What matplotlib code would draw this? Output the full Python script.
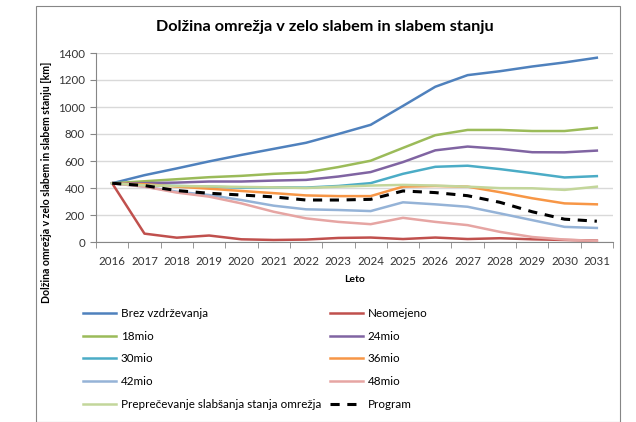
import numpy as np
import matplotlib.pyplot as plt
from matplotlib.patches import Rectangle

# Data
years = [str(y) for y in range(2016, 2032)]

brez = [435, 495, 545, 597, 645, 690, 735, 800, 868, 1008, 1150, 1236, 1265, 1300, 1330, 1365]
neomejeno = [435, 62, 32, 48, 20, 15, 18, 30, 33, 22, 33, 22, 28, 20, 15, 10]
mio18 = [435, 450, 465, 480, 490, 505, 515, 555, 602, 697, 791, 830, 830, 822, 822, 846]
mio24 = [435, 436, 440, 448, 448, 455, 460, 485, 518, 592, 679, 707, 690, 665, 664, 677]
mio30 = [435, 423, 415, 410, 403, 405, 403, 415, 436, 505, 557, 565, 540, 510, 478, 488]
mio36 = [435, 428, 410, 395, 378, 362, 345, 340, 340, 410, 415, 410, 369, 324, 286, 279]
mio42 = [435, 410, 373, 348, 311, 269, 242, 237, 229, 294, 279, 261, 212, 162, 112, 104]
mio48 = [435, 410, 366, 336, 286, 224, 175, 149, 132, 179, 149, 125, 75, 37, 18, 8]
preprec = [435, 420, 415, 412, 408, 405, 400, 410, 418, 423, 418, 410, 399, 398, 386, 410]
program = [435, 418, 381, 361, 348, 334, 311, 311, 316, 378, 366, 343, 294, 224, 169, 154]

series = [
    ("Brez vzdrževanja", brez, "#4F81BD", "-"),
    ("Neomejeno", neomejeno, "#C0504D", "-"),
    ("18mio", mio18, "#9BBB59", "-"),
    ("24mio", mio24, "#8064A2", "-"),
    ("30mio", mio30, "#4BACC6", "-"),
    ("36mio", mio36, "#F79646", "-"),
    ("42mio", mio42, "#95B3D7", "-"),
    ("48mio", mio48, "#E6A5A3", "-"),
    ("Preprečevanje slabšanja stanja omrežja", preprec, "#C3D69B", "-"),
    ("Program", program, "black", "--"),
]

plt.rcParams['font.family'] = ['Lato', 'DejaVu Sans']

fig = plt.figure(figsize=(6.36, 4.22), dpi=100)
ax = fig.add_axes([96 / 636, 1 - 242 / 422, (613 - 96) / 636, (242 - 53) / 422])

x = np.arange(len(years))
handles = []
for name, vals, col, ls in series:
    if ls == "--":
        h, = ax.plot(x, vals, color=col, lw=2.2, ls=(0, (3, 2.5)), label=name, zorder=5)
    else:
        h, = ax.plot(x, vals, color=col, lw=1.8, label=name)
    handles.append(h)

ax.set_xlim(-0.5, len(years) - 0.5)
ax.set_ylim(0, 1400)
ax.set_yticks(range(0, 1401, 200))
ax.set_xticks(x)
ax.set_xticklabels(years)
ax.set_xticks(np.arange(-0.5, len(years), 1), minor=True)
ax.tick_params(axis='x', which='major', length=0, labelsize=8.3, pad=10, labelcolor='#333333')
ax.tick_params(axis='x', which='minor', length=4, color='#868686')
ax.tick_params(axis='y', length=4, labelsize=8.3, color='#868686', labelcolor='#333333', pad=4)
ax.grid(axis='y', color='#D9D9D9', lw=1)
ax.set_axisbelow(True)
for s in ['top', 'right']:
    ax.spines[s].set_visible(False)
ax.spines['left'].set_color('#868686')
ax.spines['bottom'].set_color('#868686')

ax.set_xlabel("Leto", fontsize=7.5, fontweight='bold', labelpad=6)
fig.text(47 / 636, 1 - 182 / 422, "Dolžina omrežja v zelo slabem in slabem stanju [km]",
         rotation=90, ha='center', va='center', fontsize=7.6, fontweight='bold')

fig.text(325 / 636, 1 - 27 / 422, "Dolžina omrežja v zelo slabem in slabem stanju",
         ha='center', va='center', fontsize=11.7, fontweight='bold')

# legend: two columns, placed like Excel
leg_kw = dict(frameon=False, fontsize=8.4, handlelength=2.8, handletextpad=0.45,
              labelspacing=1.0, borderaxespad=0, borderpad=0)
left_idx = [0, 2, 4, 6, 8]
right_idx = [1, 3, 5, 7, 9]
fig.legend([handles[i] for i in left_idx], [series[i][0] for i in left_idx],
           loc='upper left', bbox_to_anchor=(83 / 636, 1 - 308 / 422), **leg_kw)
fig.legend([handles[i] for i in right_idx], [series[i][0] for i in right_idx],
           loc='upper left', bbox_to_anchor=(330 / 636, 1 - 308 / 422), **leg_kw)

fig.patches.append(Rectangle((36 / 636, 0.0), (620 - 36) / 636, 1 - 6 / 422,
                             transform=fig.transFigure, fill=False,
                             edgecolor='#868686', lw=0.8))

fig.savefig("out.png", dpi=100)
